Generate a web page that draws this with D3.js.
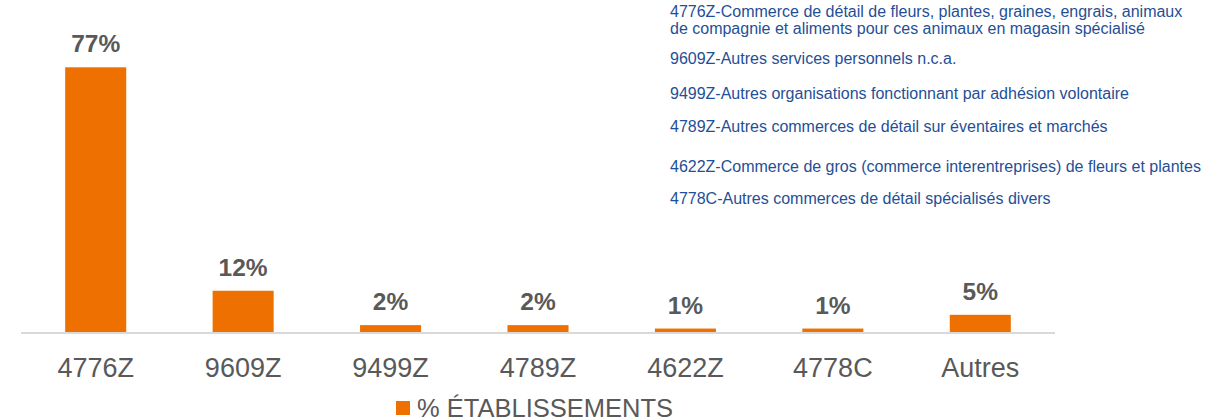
<!DOCTYPE html>
<html>
<head>
<meta charset="utf-8">
<script src="https://cdn.jsdelivr.net/npm/d3@7"></script>
<style>
  html, body { margin: 0; padding: 0; background: #fff; }
  svg { display: block; font-family: "Liberation Sans", Arial, sans-serif; }
</style>
</head>
<body>
<svg id="chart" width="1214" height="420"></svg>
<script>
const categories = ['4776Z', '9609Z', '9499Z', '4789Z', '4622Z', '4778C', 'Autres']
const values = [77, 12, 2, 2, 1, 1, 5]
const seriesName = '% ÉTABLISSEMENTS'
const notes = [
    ['4776Z-Commerce de détail de fleurs, plantes, graines, engrais, animaux',
     'de compagnie et aliments pour ces animaux en magasin spécialisé'],
    ['9609Z-Autres services personnels n.c.a.'],
    ['9499Z-Autres organisations fonctionnant par adhésion volontaire'],
    ['4789Z-Autres commerces de détail sur éventaires et marchés'],
    ['4622Z-Commerce de gros (commerce interentreprises) de fleurs et plantes'],
    ['4778C-Autres commerces de détail spécialisés divers']
]
const noteBaselines = [17, 64, 99, 132, 172, 204]

const orange = '#ed7000'
const gray = '#595959'
const blue = '#1f4f96'

const svg = d3.select('#chart')
const baseY = 332

const x = d3.scaleBand()
    .domain(categories)
    .range([22, 1054])
    .paddingInner(0.586)
    .paddingOuter(0.293)

const y = d3.scaleLinear()
    .domain([0, 77])
    .range([baseY, 67.3])

// bars
svg.append('g')
    .selectAll('rect')
    .data(values)
    .join('rect')
    .attr('x', (d, i) => x(categories[i]))
    .attr('y', d => y(d))
    .attr('width', x.bandwidth())
    .attr('height', d => baseY - y(d))
    .attr('fill', orange)

// baseline
svg.append('line')
    .attr('x1', 21).attr('x2', 1055)
    .attr('y1', baseY + 1).attr('y2', baseY + 1)
    .attr('stroke', '#d9d9d9')
    .attr('stroke-width', 2)

// value labels
svg.append('g')
    .selectAll('text')
    .data(values)
    .join('text')
    .attr('x', (d, i) => x(categories[i]) + x.bandwidth() / 2)
    .attr('y', d => y(d) - 15)
    .attr('text-anchor', 'middle')
    .attr('font-size', '24.5px')
    .attr('font-weight', 'bold')
    .attr('fill', gray)
    .text(d => d + '%')

// category axis
const xAxis = d3.axisBottom(x).tickSize(0).tickPadding(0)
svg.append('g')
    .attr('transform', `translate(0, ${baseY})`)
    .call(xAxis)
    .call(g => g.select('.domain').remove())
    .selectAll('text')
    .attr('dy', null)
    .attr('y', 45)
    .attr('font-size', '27px')
    .attr('font-family', '"Liberation Sans", Arial, sans-serif')
    .attr('fill', gray)

// legend
const legend = svg.append('g')
legend.append('rect')
    .attr('x', 396).attr('y', 401)
    .attr('width', 14).attr('height', 14)
    .attr('fill', orange)
legend.append('text')
    .attr('x', 417).attr('y', 416.5)
    .attr('font-size', '25.5px')
    .attr('fill', gray)
    .text(seriesName)

// code descriptions
const noteG = svg.append('g')
notes.forEach((lines, i) => {
    lines.forEach((line, j) => {
        noteG.append('text')
            .attr('x', 670)
            .attr('y', noteBaselines[i] + j * 17)
            .attr('font-size', '16px')
            .attr('fill', blue)
            .text(line)
    })
})
</script>
</body>
</html>
